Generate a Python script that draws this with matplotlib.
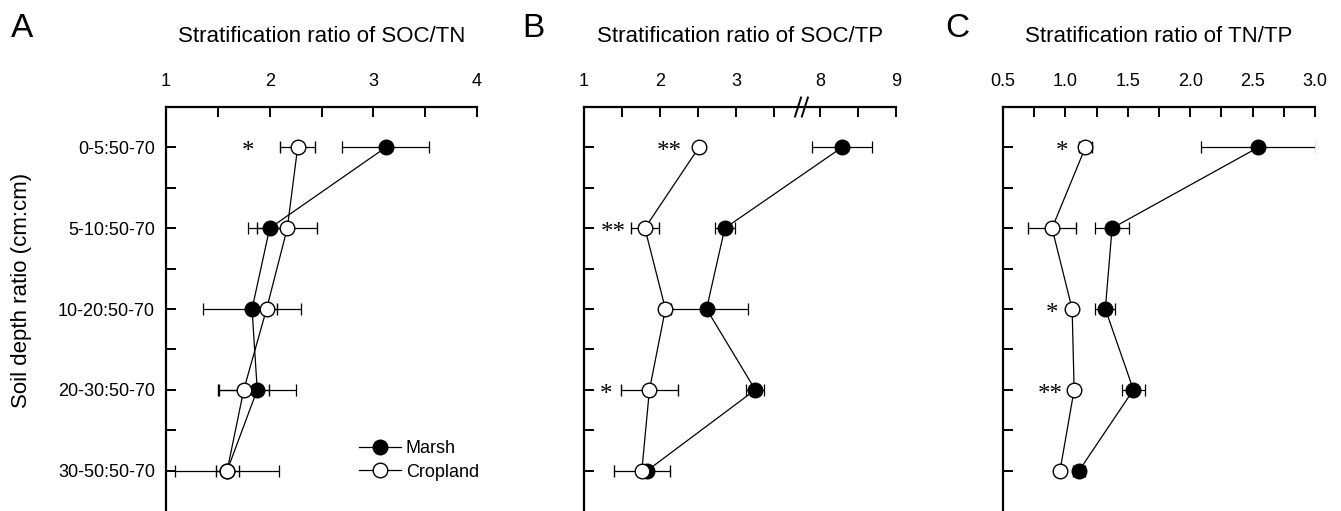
import numpy as np
import matplotlib
matplotlib.use('Agg')
import matplotlib.pyplot as plt
from matplotlib.lines import Line2D

plt.rcParams['font.family'] = 'Liberation Sans'

depths = ['0-5:50-70', '5-10:50-70', '10-20:50-70', '20-30:50-70', '30-50:50-70']

# panel A: SOC/TN
a_marsh = [3.12, 2.00, 1.83, 1.88, 1.59]
a_marsh_err = [0.42, 0.21, 0.47, 0.37, 0.50]
a_crop = [2.27, 2.17, 1.97, 1.75, 1.59]
a_crop_err = [0.17, 0.29, 0.10, 0.245, 0.11]
a_stars = ['*', '', '', '', '']
a_star_x = [1.79, None, None, None, None]

# panel B: SOC/TP (broken axis)
b_marsh = [8.29, 2.85, 2.61, 3.25, 1.83]
b_marsh_err = [0.39, 0.13, 0.54, 0.12, 0.05]
b_crop = [2.51, 1.80, 2.07, 1.86, 1.76]
b_crop_err = [0.03, 0.185, 0.07, 0.38, 0.37]
b_stars = ['**', '**', '', '*', '']
b_star_x = [2.12, 1.38, None, 1.29, None]

# panel C: TN/TP
c_marsh = [2.545, 1.374, 1.32, 1.545, 1.11]
c_marsh_err = [0.46, 0.135, 0.08, 0.095, 0.05]
c_crop = [1.16, 0.893, 1.054, 1.07, 0.957]
c_crop_err = [0.05, 0.195, 0.02, 0.03, 0.02]
c_stars = ['*', '', '*', '**', '']
c_star_x = [0.97, None, 0.89, 0.88, None]

# break in the SOC/TP axis
brk_lo, brk_hi, eps = 3.83, 7.77, 0.01


def fwd(x):
    x = np.asarray(x, dtype=float)
    return np.where(x <= brk_lo, x,
                    np.where(x >= brk_hi, brk_lo + (brk_hi - brk_lo) * eps + (x - brk_hi),
                             brk_lo + (x - brk_lo) * eps))


def inv(y):
    y = np.asarray(y, dtype=float)
    c = brk_lo + (brk_hi - brk_lo) * eps
    return np.where(y <= brk_lo, y,
                    np.where(y >= c, y - c + brk_hi, brk_lo + (y - brk_lo) / eps))


fig = plt.figure(figsize=(13.41, 5.11), dpi=100)
W, H = 1341, 511
lefts = [166, 584, 1003]
rights = [477, 896, 1315]
top = 107
axes = [fig.add_axes([l / W, 0, (r - l) / W, 1 - top / H]) for l, r in zip(lefts, rights)]

yy = np.arange(len(depths))
panels = [
    (a_marsh, a_marsh_err, a_crop, a_crop_err, a_stars, a_star_x),
    (b_marsh, b_marsh_err, b_crop, b_crop_err, b_stars, b_star_x),
    (c_marsh, c_marsh_err, c_crop, c_crop_err, c_stars, c_star_x),
]
titles = ['Stratification ratio of SOC/TN', 'Stratification ratio of SOC/TP',
          'Stratification ratio of TN/TP']
letters = ['A', 'B', 'C']
letter_x = [22, 533, 957]

for i, ax in enumerate(axes):
    m, me, c, ce, st, sx = panels[i]
    if i == 1:
        ax.set_xscale('function', functions=(fwd, inv))
    ax.errorbar(m, yy, xerr=me, color='black', lw=0.9, marker='o', ms=10.5,
                mfc='black', mec='black', ecolor='black', elinewidth=0.9,
                capsize=4, capthick=0.9, zorder=3)
    ax.errorbar(c, yy, xerr=ce, color='black', lw=0.9, marker='o', ms=10.5,
                mfc='white', mec='black', mew=1.0, ecolor='black', elinewidth=0.9,
                capsize=4, capthick=0.9, zorder=4)
    for s, x, y in zip(st, sx, yy):
        if s:
            ax.text(x, y + 0.06, s, family='Liberation Serif', fontsize=18,
                    ha='center', va='center')
    ax.set_ylim(4.5, -0.5)
    ax.set_yticks(yy)
    ax.set_yticks(yy[:-1] + 0.5, minor=True)
    ax.spines['bottom'].set_visible(False)
    ax.spines['right'].set_visible(False)
    ax.spines['top'].set_linewidth(1.6)
    ax.spines['left'].set_linewidth(1.6)
    ax.xaxis.tick_top()
    ax.tick_params(axis='x', which='both', direction='in', length=7, width=1.4,
                   labelsize=13, pad=12, bottom=False, top=True)
    ax.tick_params(axis='y', which='both', direction='in', length=7, width=1.4,
                   labelsize=13, pad=8, right=False)
    if i == 0:
        ax.set_yticklabels(depths)
    else:
        ax.set_yticklabels([])
    fig.text((lefts[i] + rights[i]) / 2 / W, 1 - 42 / H, titles[i], fontsize=16,
             ha='center', va='baseline')
    fig.text(letter_x[i] / W, 1 - 37 / H, letters[i], fontsize=24,
             ha='center', va='baseline')

axes[0].set_xlim(1, 4)
axes[0].set_xticks([1, 2, 3, 4])
axes[0].set_xticks([1.5, 2.5, 3.5], minor=True)

axes[1].set_xlim(1, 9)
axes[1].set_xticks([1, 2, 3, 8, 9])
axes[1].set_xticklabels(['1', '2', '3', '8', '9'])
axes[1].set_xticks([1.5, 2.5, 3.5, 8.5], minor=True)
for bx in [0.686, 0.708]:
    axes[1].plot([bx - 0.0096, bx + 0.0096], [1 - 0.0235, 1 + 0.0235],
                 transform=axes[1].transAxes, color='black', lw=1.4, clip_on=False)

axes[2].set_xlim(0.5, 3.0)
axes[2].set_xticks([0.5, 1.0, 1.5, 2.0, 2.5, 3.0])
axes[2].set_xticklabels(['0.5', '1.0', '1.5', '2.0', '2.5', '3.0'])
axes[2].set_xticks([0.75, 1.25, 1.75, 2.25, 2.75], minor=True)

handles = [Line2D([], [], color='black', lw=0.9, marker='o', ms=10.5, mfc='black', mec='black'),
           Line2D([], [], color='black', lw=0.9, marker='o', ms=10.5, mfc='white', mec='black')]
axes[0].legend(handles, ['Marsh', 'Cropland'], loc='lower right', frameon=False,
               fontsize=13, handlelength=2.3, handletextpad=0.3, borderaxespad=0.0,
               labelspacing=0.35, bbox_to_anchor=(1.03, 0.057))

fig.text(22 / W, 1 - 290 / H, 'Soil depth ratio (cm:cm)', fontsize=16,
         rotation=90, ha='center', va='center')

fig.savefig('out.png', dpi=100)
